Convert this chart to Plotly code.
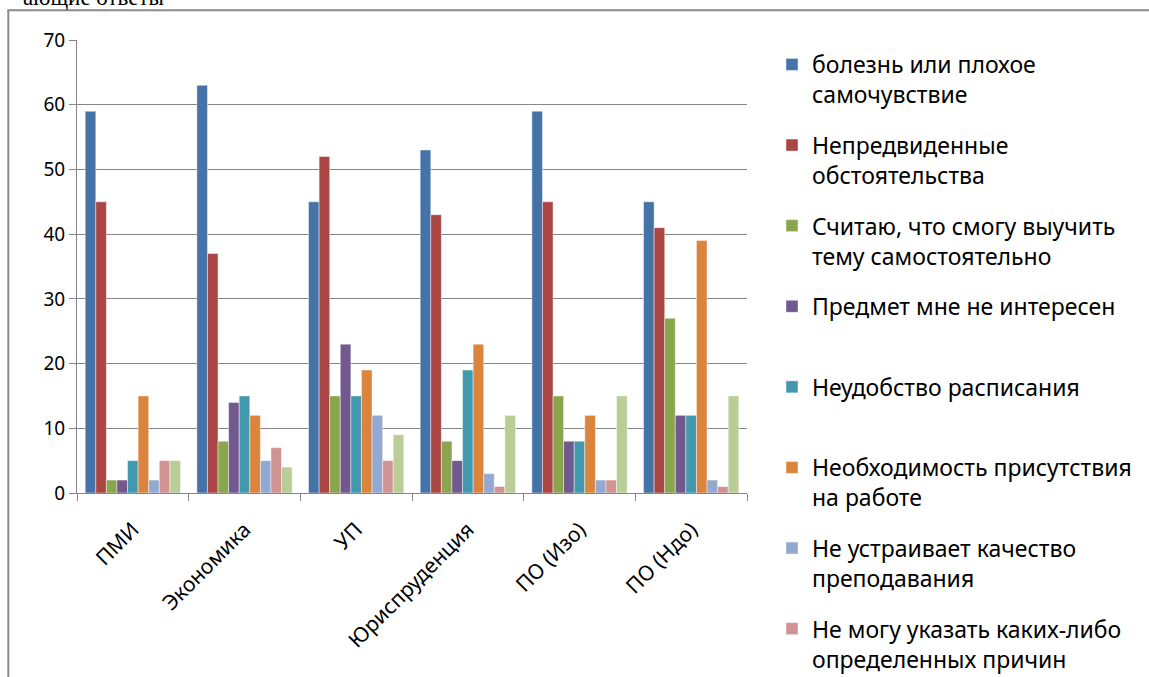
import plotly.graph_objects as go

categories = ["ПМИ", "Экономика", "УП", "Юриспруденция", "ПО (Изо)", "ПО (Ндо)"]

series_names = [
    "болезнь или плохое<br>самочувствие",
    "Непредвиденные<br>обстоятельства",
    "Считаю, что смогу выучить<br>тему самостоятельно",
    "Предмет мне не интересен<br> ",
    "Неудобство расписания<br> ",
    "Необходимость присутствия<br>на работе",
    "Не устраивает качество<br>преподавания",
    "Не могу указать каких-либо<br>определенных причин",
    "Другое",
]

bolezn = [59, 63, 45, 53, 59, 45]
nepredv = [45, 37, 52, 43, 45, 41]
samost = [2, 8, 15, 8, 15, 27]
neinteres = [2, 14, 23, 5, 8, 12]
raspis = [5, 15, 15, 19, 8, 12]
rabota = [15, 12, 19, 23, 12, 39]
kachestvo = [2, 5, 12, 3, 2, 2]
net_prichin = [5, 7, 5, 1, 2, 1]
drugoe = [5, 4, 9, 12, 15, 15]

series_values = [bolezn, nepredv, samost, neinteres, raspis, rabota, kachestvo, net_prichin, drugoe]

colors = ["#4572A7", "#AA4643", "#89A54E", "#71588F", "#4198AF",
          "#DB843D", "#93A9CF", "#D19392", "#B9CD96"]

W, H = 1149, 677
L, R, T, B = 77, 402, 40, 184
PW, PH = W - L - R, H - T - B

def px_x(p):
    return (p - L) / PW

def px_y(p):
    return (H - B - p) / PH

fig = go.Figure()
for i, (name, vals) in enumerate(zip(series_names, series_values)):
    fig.add_trace(go.Bar(
        x=categories, y=vals, name=name,
        marker=dict(color=colors[i], line=dict(color="rgba(255,255,255,0.55)", width=0.8)),
        legendgroup="g%d" % i,
        showlegend=(i < 8),
    ))

fig.update_layout(
    width=W, height=H,
    margin=dict(l=L, r=R, t=T, b=B, pad=0, autoexpand=False),
    paper_bgcolor="white", plot_bgcolor="white",
    barmode="group", bargap=0.147, bargroupgap=0,
    font=dict(family="Noto Sans", size=20, color="#000000"),
    legend=dict(
        x=px_x(772), y=px_y(43), xanchor="left", yanchor="top",
        font=dict(family="Noto Sans", size=23, color="#000000"),
        valign="top", traceorder="grouped", tracegroupgap=17.8,
        bgcolor="rgba(0,0,0,0)", maxheight=1200,
    ),
    xaxis=dict(
        type="category", tickangle=-45, tickson="boundaries",
        ticks="outside", ticklen=7, tickcolor="#868686",
        showline=True, linecolor="#868686", linewidth=1,
        showgrid=False, tickfont=dict(size=21, color="#000000"),
        ticklabelstandoff=15, automargin=False,
    ),
    yaxis=dict(
        range=[0, 70], dtick=10, tick0=0,
        ticks="outside", ticklen=7, tickcolor="#868686",
        showline=True, linecolor="#868686", linewidth=1,
        showgrid=True, gridcolor="#868686", gridwidth=1,
        zeroline=False, tickfont=dict(size=19, color="#000000"),
        automargin=False,
    ),
    shapes=[
        dict(type="line", xref="paper", yref="paper",
             x0=px_x(8.3), x1=px_x(8.3), y0=px_y(10.3), y1=px_y(680),
             line=dict(color="#8a8a8a", width=2)),
        dict(type="line", xref="paper", yref="paper",
             x0=px_x(7.3), x1=px_x(1152), y0=px_y(10.3), y1=px_y(10.3),
             line=dict(color="#8a8a8a", width=2)),
    ],
    annotations=[
        dict(text="ающие ответы", xref="paper", yref="paper",
             x=px_x(166), y=px_y(-2), xanchor="right", yanchor="middle",
             showarrow=False, font=dict(family="Liberation Serif", size=23, color="#000000")),
    ],
)

fig.write_html("out.html", config={"displayModeBar": False},
               post_script="document.body.style.margin='0px';")
